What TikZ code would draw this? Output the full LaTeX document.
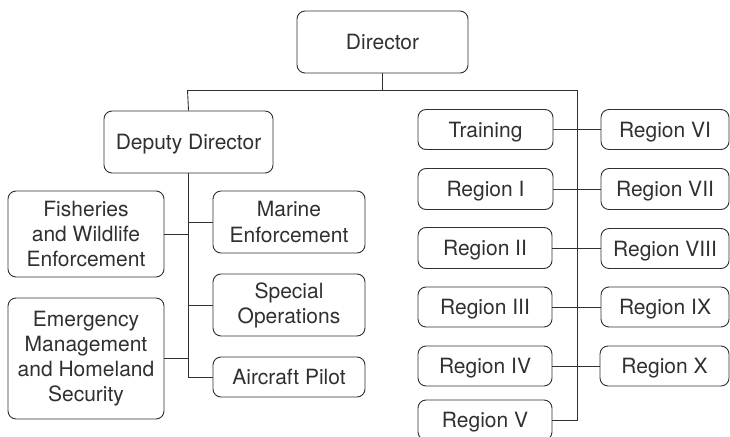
\documentclass[tikz,border=0pt]{standalone}
\usepackage{fontspec}
\setmainfont{TeX Gyre Heros}
\definecolor{ink}{HTML}{303030}
\begin{document}
\begin{tikzpicture}[x=1pt,y=-1pt,
  box/.style={draw=ink, text=ink, line width=0.9pt, rounded corners=8pt, inner sep=0pt,
    align=center, font=\fontsize{21}{25}\selectfont},
  oneline/.style={box, text depth=0pt},
  conn/.style={draw=ink, line width=0.9pt}]
\useasboundingbox (0,0) rectangle (730,436);
\begin{scope}
\clip (0,0) rectangle (730,436);
\node[oneline, minimum width=171pt, minimum height=62pt] (dir) at (382.5,42) {Director};
\node[oneline, minimum width=169pt, minimum height=62pt] (dep) at (188.5,142) {Deputy Director};
\node[box, minimum width=156pt, minimum height=86pt] (fish) at (86,234) {Fisheries\\and Wildlife\\Enforcement};
\node[box, minimum width=156pt, minimum height=121pt] (emer) at (86,358.5) {Emergency\\Management\\and Homeland\\Security};
\node[box, minimum width=152pt, minimum height=62pt] (mar) at (289,222) {Marine\\Enforcement};
\node[box, minimum width=152pt, minimum height=62pt] (spec) at (289,305) {Special\\Operations};
\node[oneline, minimum width=152pt, minimum height=40pt] (air) at (289,377) {Aircraft Pilot};
\node[oneline, minimum width=135pt, minimum height=40pt] (train) at (485.5,129.5) {Training};
\node[oneline, minimum width=135pt, minimum height=41pt] (r1) at (485.5,189) {Region I};
\node[oneline, minimum width=134pt, minimum height=41pt] (r2) at (485,248) {Region II};
\node[oneline, minimum width=134pt, minimum height=40pt] (r3) at (485,307) {Region III};
\node[oneline, minimum width=134pt, minimum height=40pt] (r4) at (485,366) {Region IV};
\node[oneline, minimum width=134pt, minimum height=40pt] (r5) at (485,420) {Region V};
\node[oneline, minimum width=128pt, minimum height=40pt] (r6) at (665,129.5) {Region VI};
\node[oneline, minimum width=128pt, minimum height=41pt] (r7) at (665,189) {Region VII};
\node[oneline, minimum width=128pt, minimum height=40pt] (r8) at (665,248.5) {Region VIII};
\node[oneline, minimum width=128pt, minimum height=40pt] (r9) at (665,307) {Region IX};
\node[oneline, minimum width=129pt, minimum height=40pt] (r10) at (664.5,366) {Region X};
\coordinate (jL) at (187.5,90);
\coordinate (jD) at (382.5,90);
\coordinate (jR) at (577,90);
\coordinate (trunkL) at (188.5,377);
\coordinate (trunkR) at (577,420);
\draw[conn] (dir.south) -- (jD);
\draw[conn] (jL) -- (jR);
\draw[conn] (jL) -- (dep.north);
\draw[conn] (dep.south) -- (trunkL) -- (air.west);
\draw[conn] (fish.east) -- (fish.east -| trunkL);
\draw[conn] (emer.east) -- (emer.east -| trunkL);
\draw[conn] (mar.west) -- (mar.west -| trunkL);
\draw[conn] (spec.west) -- (spec.west -| trunkL);
\draw[conn] (jR) -- (trunkR) -- (r5.east);
\draw[conn] (train.east) -- (train.east -| r6.west);
\draw[conn] (r1.east) -- (r1.east -| r7.west);
\draw[conn] (r2.east) -- (r2.east -| r8.west);
\draw[conn] (r3.east) -- (r3.east -| r9.west);
\draw[conn] (r4.east) -- (r4.east -| r10.west);
\end{scope}
\end{tikzpicture}
\end{document}
